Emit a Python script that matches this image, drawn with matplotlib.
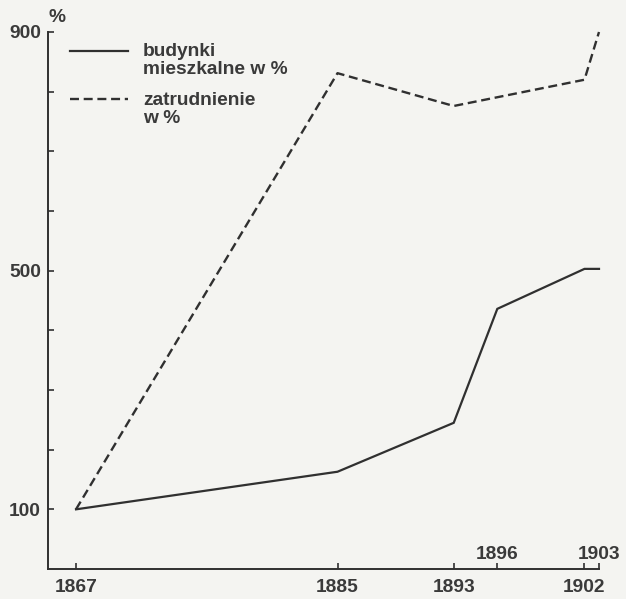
import matplotlib
matplotlib.use("Agg")
import matplotlib.pyplot as plt
from matplotlib.transforms import blended_transform_factory

# ---- data ----
years_buildings = [1867, 1885, 1893, 1896, 1902, 1903]
buildings_pct = [100, 163, 245, 436, 503, 503]
years_employment = [1867, 1885, 1893, 1902, 1903]
employment_pct = [100, 831, 776, 820, 900]

xtick_years = [1867, 1885, 1893, 1896, 1902, 1903]
xlabels_below = ["1867", "1885", "1893", "", "1902", ""]
xlabels_above = {1896: "1896", 1903: "1903"}
yticks = [100, 200, 300, 400, 500, 600, 700, 800, 900]
ylabels = ["100", "", "", "", "500", "", "", "", "900"]

legend_solid = "budynki\nmieszkalne w %"
legend_dashed = "zatrudnienie\nw %"

# ---- style ----
W, H = 626, 599
bg = "#f4f4f1"
ink = "#303030"
txt = "#3a3a3a"
plt.rcParams["font.family"] = ["Liberation Sans", "DejaVu Sans"]
plt.rcParams["font.weight"] = "bold"
fs = 13.8
dash = (3.8, 2.0)

fig = plt.figure(figsize=(W / 100, H / 100), dpi=100, facecolor=bg)

def fx(px):
    return px / W

def fy(py):
    return 1 - py / H

ax_left, ax_right, ax_bottom, ax_top = 48, 599, 569, 32
ax = fig.add_axes([fx(ax_left), fy(ax_bottom), fx(ax_right - ax_left), (ax_bottom - ax_top) / H])
ax.set_facecolor(bg)

ax.plot(years_buildings, buildings_pct, color=ink, lw=1.6, solid_joinstyle="miter", clip_on=False)
ax.plot(years_employment, employment_pct, color=ink, lw=1.7, dashes=dash, clip_on=False)

x0 = 1867 - (76 - ax_left) / ((599 - 76) / 36)
ax.set_xlim(x0, 1903)
ax.set_ylim(0, 900)

for s in ["top", "right"]:
    ax.spines[s].set_visible(False)
for s in ["left", "bottom"]:
    ax.spines[s].set_color(ink)
    ax.spines[s].set_linewidth(1.4)
ax.spines["bottom"].set_bounds(x0, 1903)

ax.set_yticks(yticks)
ax.set_yticklabels(ylabels)
ax.set_xticks(xtick_years)
ax.set_xticklabels(xlabels_below)
ax.tick_params(axis="y", direction="in", length=4.5, width=1.2, color=ink,
               labelsize=fs, labelcolor=txt, pad=5)
ax.tick_params(axis="x", direction="in", length=4.5, width=1.2, color=ink,
               labelsize=fs, labelcolor=txt, pad=7)

trans = blended_transform_factory(ax.transData, ax.transAxes)
for yr, lab in xlabels_above.items():
    ax.text(yr, 0.012, lab, transform=trans, ha="center", va="bottom",
            fontsize=fs, color=txt, fontweight="bold")

fig.text(fx(57), fy(18), "%", ha="center", va="center", fontsize=fs, color=txt, fontweight="bold")

# legend
fig.add_artist(plt.Line2D([fx(70), fx(128)], [fy(51), fy(51)], color=ink, lw=1.6))
fig.add_artist(plt.Line2D([fx(70), fx(128)], [fy(99), fy(99)], color=ink, lw=1.7, dashes=dash))
fig.text(fx(143), fy(43), legend_solid, ha="left", va="top", fontsize=fs, color=txt,
         fontweight="bold", linespacing=1.05)
fig.text(fx(143), fy(92), legend_dashed, ha="left", va="top", fontsize=fs, color=txt,
         fontweight="bold", linespacing=1.05)

fig.savefig("out.png", dpi=100, facecolor=bg)
